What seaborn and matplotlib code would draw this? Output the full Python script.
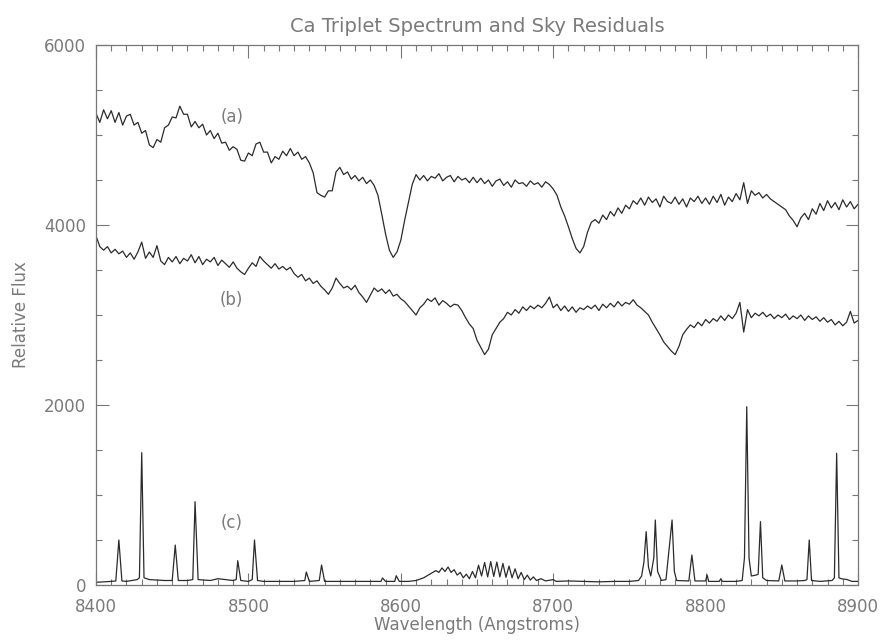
import numpy as np
import pandas as pd
import matplotlib
matplotlib.use("Agg")
import matplotlib.pyplot as plt
import seaborn as sns
from matplotlib.ticker import MultipleLocator

# ---------------- data ----------------
# wavelength grid of spectra (a) and (b), 2.5 Angstrom sampling
wave_ab = np.arange(8400.0, 8900.1, 2.5)

flux_a = [
    5240, 5140, 5280, 5180, 5270, 5140, 5250, 5110, 5210, 5230, 5110, 5140, 5020, 5050, 4890, 4860, 4950, 4920, 5080, 5110,
    5200, 5190, 5320, 5230, 5230, 5090, 5150, 5080, 5120, 5000, 5050, 4960, 5020, 4910, 4920, 4830, 4870, 4840, 4720, 4710,
    4800, 4770, 4900, 4920, 4810, 4810, 4690, 4760, 4730, 4820, 4770, 4850, 4770, 4810, 4730, 4760, 4690, 4580, 4360, 4330,
    4310, 4380, 4380, 4590, 4640, 4560, 4590, 4510, 4550, 4490, 4530, 4460, 4500, 4440, 4330, 4120, 3900, 3720, 3640, 3700,
    3830, 4050, 4250, 4450, 4560, 4500, 4550, 4490, 4540, 4520, 4570, 4490, 4530, 4550, 4480, 4540, 4500, 4520, 4470, 4530,
    4470, 4520, 4460, 4500, 4430, 4490, 4510, 4440, 4480, 4420, 4500, 4460, 4470, 4430, 4490, 4450, 4470, 4420, 4480, 4450,
    4400, 4330, 4200, 4100, 3980, 3850, 3740, 3690, 3760, 3920, 4030, 4060, 4020, 4110, 4060, 4150, 4100, 4190, 4130, 4220,
    4180, 4270, 4230, 4300, 4220, 4310, 4250, 4290, 4200, 4320, 4260, 4240, 4310, 4230, 4290, 4200, 4300, 4260, 4320, 4240,
    4300, 4230, 4320, 4250, 4340, 4220, 4310, 4260, 4350, 4280, 4470, 4240, 4380, 4330, 4360, 4300, 4340, 4290, 4260, 4230,
    4200, 4170, 4100, 4050, 3980, 4080, 4130, 4060, 4180, 4120, 4240, 4160, 4270, 4190, 4250, 4170, 4280, 4200, 4260, 4180, 4230,
]

flux_b = [
    3880, 3760, 3720, 3760, 3690, 3730, 3680, 3710, 3640, 3690, 3620, 3700, 3810, 3630, 3700, 3640, 3770, 3600, 3560, 3640,
    3590, 3650, 3570, 3630, 3600, 3670, 3580, 3650, 3560, 3620, 3590, 3640, 3550, 3610, 3570, 3530, 3590, 3520, 3480, 3450,
    3520, 3580, 3540, 3650, 3600, 3560, 3520, 3570, 3510, 3540, 3500, 3530, 3460, 3420, 3450, 3380, 3410, 3350, 3380, 3320,
    3280, 3230, 3300, 3410, 3350, 3300, 3320, 3280, 3330, 3250, 3200, 3140, 3220, 3300, 3260, 3290, 3240, 3280, 3210, 3230,
    3180, 3150, 3100, 3050, 3000, 3080, 3120, 3180, 3150, 3190, 3110, 3160, 3130, 3090, 3120, 3110, 3050, 2970, 2900, 2850,
    2720, 2640, 2560, 2620, 2780, 2850, 2920, 2960, 3030, 3000, 3060, 3020, 3090, 3050, 3100, 3070, 3110, 3080, 3130, 3200,
    3080, 3120, 3050, 3100, 3040, 3090, 3030, 3080, 3060, 3100, 3070, 3110, 3050, 3120, 3080, 3130, 3090, 3150, 3100, 3140,
    3120, 3170, 3110, 3080, 3040, 3000, 2920, 2850, 2780, 2700, 2650, 2600, 2560, 2650, 2780, 2840, 2890, 2860, 2920, 2880,
    2950, 2910, 2960, 2930, 2990, 2940, 3000, 2960, 3020, 3140, 2810, 3060, 2970, 3020, 2990, 3030, 2980, 3010, 2960, 3000,
    2970, 3010, 2950, 2990, 2960, 3000, 2940, 2990, 2950, 2980, 2930, 2970, 2920, 2950, 2890, 2930, 2880, 2920, 3040, 2910, 2940,
]

# sky residual spectrum (c)
wave_c = [
    8400, 8410, 8413, 8415, 8417, 8420, 8427, 8428.5, 8430, 8431.5, 8435, 8445, 8450, 8452, 8454, 8460,
    8463.5, 8465, 8467, 8475, 8480, 8490, 8492, 8493, 8495, 8500, 8502.5, 8504, 8506, 8510, 8520, 8530,
    8537, 8538, 8540, 8546.5, 8548, 8550, 8560, 8570, 8580, 8587, 8588, 8590, 8596, 8597, 8599, 8605,
    8610, 8615, 8620, 8623, 8625, 8627, 8629, 8631, 8633, 8635, 8637, 8639, 8641, 8643, 8645, 8647,
    8649, 8651, 8653, 8655, 8657, 8659, 8661, 8663, 8665, 8667, 8669, 8671, 8673, 8675, 8677, 8679,
    8681, 8683, 8685, 8687, 8689, 8692, 8695, 8700, 8702, 8710, 8720, 8730, 8740, 8750,
    8756, 8758, 8759.5, 8761, 8762.5, 8764, 8766, 8767, 8768.5, 8771, 8774, 8776, 8778, 8779.5, 8781,
    8789, 8791, 8793, 8800, 8801, 8802, 8809, 8810, 8811, 8820, 8824, 8825.5, 8827, 8828.5, 8830,
    8833, 8834.5, 8836, 8837.5, 8840, 8848, 8850, 8852, 8860, 8865, 8866.5, 8868, 8869.5, 8875,
    8883, 8884.5, 8886, 8887.5, 8889, 8893, 8896, 8900,
]
flux_c = [
    30, 40, 45, 500, 45, 40, 60, 80, 1470, 80, 60, 50, 50, 444, 50, 50,
    60, 926, 60, 50, 70, 50, 60, 270, 50, 40, 60, 500, 50, 40, 40, 40,
    50, 144, 40, 50, 222, 40, 40, 40, 40, 40, 78, 40, 40, 103, 40, 40,
    50, 80, 130, 160, 140, 190, 150, 200, 140, 170, 110, 140, 80, 120, 70, 150,
    80, 220, 100, 250, 90, 260, 95, 255, 90, 240, 85, 210, 80, 180, 70, 140,
    60, 110, 55, 90, 50, 70, 45, 60, 40, 45, 40, 35, 40, 40,
    50, 100, 250, 593, 200, 100, 300, 722, 150, 50, 60, 389, 722, 150, 50,
    45, 333, 45, 45, 111, 40, 40, 70, 40, 40, 50, 300, 1981, 300, 100,
    110, 120, 704, 80, 50, 45, 222, 45, 45, 50, 60, 500, 50, 40,
    50, 80, 1463, 80, 70, 60, 40, 40,
]

labels = ["(a)", "(b)", "(c)"]
label_x = [8489, 8489, 8489]
label_y = [5200, 3170, 690]

title = "Ca Triplet Spectrum and Sky Residuals"
xlabel = "Wavelength (Angstroms)"
ylabel = "Relative Flux"
xticks = [8400, 8500, 8600, 8700, 8800, 8900]
yticks = [0, 2000, 4000, 6000]

# ---------------- plot ----------------
sns.set_theme(style="white")
plt.rcParams["font.family"] = ["DejaVu Sans"]

fig = plt.figure(figsize=(8.84, 6.4), dpi=100)
ax = fig.add_axes([96 / 884, 1 - 585 / 640, (858 - 96) / 884, (585 - 45) / 640])

df_a = pd.DataFrame({"w": wave_ab, "f": flux_a})
df_b = pd.DataFrame({"w": wave_ab, "f": flux_b})
df_c = pd.DataFrame({"w": wave_c, "f": flux_c})

line_col = "#2b2b2b"
for d in (df_a, df_b, df_c):
    sns.lineplot(data=d, x="w", y="f", ax=ax, estimator=None, sort=False,
                 color=line_col, linewidth=0.9)

ax.set_xlim(8400, 8900)
ax.set_ylim(0, 6000)

txt_col = "#7a7a7a"
for lab, lx, ly in zip(labels, label_x, label_y):
    ax.text(lx, ly, lab, color=txt_col, fontsize=12, ha="center", va="center")

ax.set_title(title, color=txt_col, fontsize=14, pad=9)
ax.set_xlabel(xlabel, color=txt_col, fontsize=12, labelpad=0)
ax.set_ylabel(ylabel, color=txt_col, fontsize=12, labelpad=10)

ax.set_xticks(xticks)
ax.set_yticks(yticks)
ax.xaxis.set_minor_locator(MultipleLocator(10))
ax.yaxis.set_minor_locator(MultipleLocator(500))
ax.tick_params(axis="both", which="both", direction="in", top=True, right=True,
               bottom=True, left=True, colors="#777777", labelcolor=txt_col,
               width=0.8)
ax.tick_params(axis="both", which="major", length=9)
ax.tick_params(axis="both", which="minor", length=4)
ax.tick_params(axis="x", which="major", pad=9, labelsize=12)
ax.tick_params(axis="y", which="major", pad=7, labelsize=12)
for s in ax.spines.values():
    s.set_color("#777777")
    s.set_linewidth(0.9)
ax.grid(False)

fig.savefig("out.png", dpi=100, facecolor="white")
